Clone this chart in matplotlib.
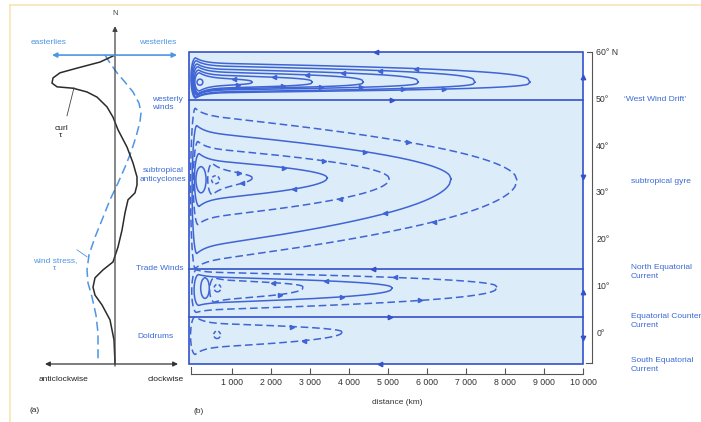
import numpy as np
import matplotlib
matplotlib.use('Agg')
import matplotlib.pyplot as plt
from matplotlib.patches import Rectangle, Ellipse
from matplotlib.lines import Line2D

plt.rcParams['font.family'] = ['Liberation Sans', 'DejaVu Sans']

# ---------------- data ----------------
# panel (a): curl of wind stress and wind stress against latitude
curl_val = [0.0, -1.5, -3.8, -5.5, -6.2, -6.3, -5.8, -4.2, -2.8, -1.8, -0.8, -0.2, 0.3,
            1.2, 1.8, 2.2, 2.2, 2.0, 1.3, 1.0, 0.7, 0.3, -0.2, -1.2, -2.0, -2.2, -2.0,
            -1.3, -0.5, -0.1, 0.0]
curl_lat = [59.3, 57.8, 56.5, 55.5, 54.4, 53.3, 52.5, 52.2, 51.4, 50.3, 48.2, 46.0, 43.3,
            39.6, 36.2, 33.2, 31.5, 29.8, 28.3, 25.5, 21.8, 18.2, 15.0, 13.3, 11.6, 9.6, 7.9,
            5.8, 2.6, -1.7, -6.6]
stress_val = [-1.0, -0.5, 0.2, 1.0, 1.8, 2.4, 2.6, 2.5, 2.1, 1.6, 1.0, 0.3, -0.5, -1.3,
              -2.0, -2.6, -2.8, -2.7, -2.3, -1.9, -1.7, -1.7]
stress_lat = [59.3, 57.6, 55.5, 53.5, 51.4, 49.0, 46.9, 45.0, 41.8, 38.5, 35.3, 31.9, 28.3,
              24.0, 20.3, 16.5, 13.3, 10.5, 7.5, 3.6, -0.2, -6.6]

# panel (b): axes
dist_ticks = [1000, 2000, 3000, 4000, 5000, 6000, 7000, 8000, 9000, 10000]
dist_labels = ['1 000', '2 000', '3 000', '4 000', '5 000', '6 000', '7 000', '8 000',
               '9 000', '10 000']
lat_ticks = [0, 10, 20, 30, 40, 50, 60]
lat_labels = ['0°', '10°', '20°', '30°', '40°', '50°', '60° N']

basin_west, basin_east = -90, 10000
basin_south, basin_north = -6.9, 60
band_edges = [49.6, 13.5, 3.2]

# streamline loops: eastern tip (km), tip latitude, top / bottom latitude near the west, west end (km)
wwd_tip = [1520, 3060, 4370, 5780, 7230, 8640]
wwd_tip_lat = [53.5, 53.5, 53.5, 53.5, 53.5, 53.5]
wwd_top = [54.4, 55.0, 55.7, 56.3, 57.0, 57.6]
wwd_bot = [52.7, 52.2, 52.0, 51.8, 51.4, 51.2]
wwd_west = [60, 40, 20, 0, -20, -40]
wwd_dashed = [False, False, False, False, False, False]

st_tip = [1530, 3450, 5040, 6620, 8310]
st_tip_lat = [33.0, 33.0, 32.8, 32.8, 32.5]
st_top = [34.7, 36.8, 39.4, 42.8, 46.5]
st_bot = [30.8, 28.3, 24.4, 18.2, 15.0]
st_west = [390, 50, 20, -10, -50]
st_dashed = [True, False, True, False, True]

nec_tip = [2830, 5110, 7800]
nec_tip_lat = [9.6, 9.4, 9.6]
nec_top = [11.1, 11.8, 12.8]
nec_bot = [6.9, 6.2, 4.7]
nec_west = [440, 40, -20]
nec_dashed = [True, False, True]

ecc_tip = [3830]
ecc_tip_lat = [0.0]
ecc_top = [1.9]
ecc_bot = [-3.4]
ecc_west = [-50]
ecc_dashed = [True]

# small eddies near the western boundary
eddy_x = [190, 218, 590, 320, 640, 630]
eddy_lat = [53.5, 32.6, 32.6, 9.4, 9.4, -0.6]
eddy_w = [75, 130, 100, 110, 85, 85]
eddy_h = [0.65, 2.8, 0.85, 2.2, 0.8, 0.8]
eddy_dashed = [False, False, True, False, True, True]

# arrows on the basin edges
edge_arrow_x = [4700, 5110, 4620, 5060, 4800]
edge_arrow_lat = [60, 49.6, 13.5, 3.2, -6.9]
edge_arrow_dir = ['<', '>', '<', '>', '<']
east_arrow_lat = [54.6, 33.2, 8.6, -1.3]
east_arrow_dir = ['^', 'v', '^', 'v']

# ---------------- styling ----------------
line_blue = '#3f64d4'
edge_blue = '#3552c8'
text_blue = '#3b6ad6'
light_blue = '#4e96e3'
fill_blue = '#dcecf9'
dark = '#2b2b2b'
fs = 6

fig = plt.figure(figsize=(7.01, 4.22), dpi=100)
fig.patch.set_facecolor('white')

# panel (b) axes: km across, latitude up
axb = fig.add_axes([185 / 701, 0, 516 / 701, 1])
axb.set_xlim(-192, 13022)
axb.set_ylim(-19.27, 71.09)
axb.patch.set_alpha(0)

# panel (a) axes: curl / stress across, latitude up
axa = fig.add_axes([0, 0, 185 / 701, 1])
axa.set_xlim(-11.5, 7.0)
axa.set_ylim(-19.27, 71.09)
axa.axis('off')

# pale frame of the scanned page
fig.add_artist(Line2D([10 / 701, 10 / 701], [0, 417 / 422], color='#f6e6b4', lw=1.2))
fig.add_artist(Line2D([10 / 701, 1], [417 / 422, 417 / 422], color='#f6e6b4', lw=1.2))

# ---------------- panel (a) ----------------
axa.annotate('', xy=(0, 65.5), xytext=(0, -7.3),
             arrowprops=dict(arrowstyle='-|>', color='#444', lw=0.9, mutation_scale=7,
                             shrinkA=0, shrinkB=0))
axa.text(0, 68.2, 'N', ha='center', va='center', fontsize=5.5, color='#444')
axa.annotate('', xy=(6.2, 59.3), xytext=(-6.3, 59.3),
             arrowprops=dict(arrowstyle='<|-|>', color=light_blue, lw=1.2, mutation_scale=7,
                             shrinkA=0, shrinkB=0))
axa.text(-6.6, 61.9, 'easterlies', ha='center', va='center', fontsize=fs, color=light_blue)
axa.text(4.3, 61.9, 'westerlies', ha='center', va='center', fontsize=fs, color=light_blue)
axa.annotate('', xy=(6.3, -6.85), xytext=(-7.0, -6.85),
             arrowprops=dict(arrowstyle='<|-|>', color='#333', lw=0.9, mutation_scale=7,
                             shrinkA=0, shrinkB=0))
axa.text(-5.2, -10.1, 'anticlockwise', ha='center', va='center', fontsize=fs, color='#222')
axa.text(5.1, -10.1, 'clockwise', ha='center', va='center', fontsize=fs, color='#222')
axa.text(-8.0, -16.9, '(a)', ha='center', va='center', fontsize=fs, color='#222')

axa.plot(stress_val, stress_lat, color=light_blue, lw=1.1, dashes=(6, 3))
axa.plot(curl_val, curl_lat, color=dark, lw=1.1)

axa.text(-5.4, 42.8, 'curl\nτ', ha='center', va='center', fontsize=fs, color='#222',
         linespacing=1.1)
axa.plot([-4.8, -4.1], [46.3, 52.3], color='#444', lw=0.6)
axa.text(-6.0, 14.4, 'wind stress,\nτ', ha='center', va='center', fontsize=fs,
         color=light_blue, linespacing=1.2)
axa.plot([-3.8, -2.8], [17.6, 16.1], color=light_blue, lw=0.6)

# wind-belt labels between the panels
axa.text(3.7, 49.0, 'westerly\nwinds', ha='left', va='center', fontsize=fs, color=text_blue,
         linespacing=1.2)
axa.text(4.8, 33.6, 'subtropical\nanticyclones', ha='center', va='center', fontsize=fs,
         color=text_blue, linespacing=1.3)
axa.text(4.5, 13.7, 'Trade Winds', ha='center', va='center', fontsize=fs, color=text_blue)
axa.text(2.2, -0.9, 'Doldrums', ha='left', va='center', fontsize=fs, color=text_blue)

# ---------------- panel (b) ----------------
axb.add_patch(Rectangle((basin_west, basin_south), basin_east - basin_west,
                        basin_north - basin_south, facecolor=fill_blue, edgecolor=edge_blue,
                        lw=1.2, zorder=1))
for lat in band_edges:
    axb.plot([basin_west, basin_east], [lat, lat], color=edge_blue, lw=1.2, zorder=2)


def draw_loop(west, tip, tip_lat, top, bot, dashed, p, flare, top_dir):
    r = 120
    s = np.linspace(0, 1, 160)
    x = west + r + (tip - west - r) * s
    shape = (1 - s) ** p
    fl = flare * np.exp(-(x - west - r) / 220)
    y_top = tip_lat + (top - tip_lat) * shape + fl
    y_bot = tip_lat - (tip_lat - bot) * shape - fl
    t = np.linspace(np.pi / 2, 3 * np.pi / 2, 60)
    yc = (y_top[0] + y_bot[0]) / 2
    ry = (y_top[0] - y_bot[0]) / 2
    cap_x = west + r + r * np.cos(t)
    cap_y = yc + ry * np.sin(t)
    xs = np.concatenate([x[::-1], cap_x, x])
    ys = np.concatenate([y_top[::-1], cap_y, y_bot])
    kw = dict(color=line_blue, lw=1.1, zorder=3)
    if dashed:
        kw['dashes'] = (5, 2.5)
    axb.plot(xs, ys, **kw)
    bot_dir = '>' if top_dir == '<' else '<'
    i1, i2 = int(0.66 * len(s)), int(0.74 * len(s))
    axb.plot(x[i1], y_top[i1], marker=top_dir, ms=3, color=line_blue, ls='none', zorder=4)
    axb.plot(x[i2], y_bot[i2], marker=bot_dir, ms=3, color=line_blue, ls='none', zorder=4)


for i in range(len(wwd_tip)):
    draw_loop(wwd_west[i], wwd_tip[i], wwd_tip_lat[i], wwd_top[i], wwd_bot[i],
              wwd_dashed[i], 0.32, 1.1, '<')
for i in range(len(st_tip)):
    draw_loop(st_west[i], st_tip[i], st_tip_lat[i], st_top[i], st_bot[i],
              st_dashed[i], 0.5, 1.4, '>')
for i in range(len(nec_tip)):
    draw_loop(nec_west[i], nec_tip[i], nec_tip_lat[i], nec_top[i], nec_bot[i],
              nec_dashed[i], 0.4, 0.5, '<')
for i in range(len(ecc_tip)):
    draw_loop(ecc_west[i], ecc_tip[i], ecc_tip_lat[i], ecc_top[i], ecc_bot[i],
              ecc_dashed[i], 0.45, 1.4, '>')

for i in range(len(eddy_x)):
    e = Ellipse((eddy_x[i], eddy_lat[i]), 2 * eddy_w[i], 2 * eddy_h[i], facecolor='none',
                edgecolor=line_blue, lw=1.1, zorder=3,
                linestyle=(0, (2.5, 1.5)) if eddy_dashed[i] else '-')
    axb.add_patch(e)

for x, lat, d in zip(edge_arrow_x, edge_arrow_lat, edge_arrow_dir):
    axb.plot(x, lat, marker=d, ms=3.2, color=edge_blue, ls='none', zorder=4)
for lat, d in zip(east_arrow_lat, east_arrow_dir):
    axb.plot(basin_east, lat, marker=d, ms=3.2, color=edge_blue, ls='none', zorder=4)

# axes decoration
for side in ['top', 'left']:
    axb.spines[side].set_visible(False)
axb.spines['bottom'].set_position(('data', -9.0))
axb.spines['bottom'].set_bounds(-40, 10000)
axb.spines['right'].set_position(('data', 10230))
axb.spines['right'].set_bounds(-6.6, 60)
for side in ['bottom', 'right']:
    axb.spines[side].set_color('#555')
    axb.spines[side].set_linewidth(0.8)
axb.set_xticks(dist_ticks)
axb.set_xticklabels(dist_labels)
axb.tick_params(axis='x', direction='in', length=4, width=0.8, color='#555', pad=2.5,
                labelsize=6.3, labelcolor='#333')
axb.yaxis.tick_right()
axb.set_yticks(lat_ticks)
axb.set_yticklabels(lat_labels)
axb.tick_params(axis='y', direction='in', length=0, pad=3, labelsize=6.3, labelcolor='#333')
axb.plot([-40, -40], [-9.0, -7.6], color='#555', lw=0.8, clip_on=False)
axb.plot([10100, 10230], [60, 60], color='#555', lw=0.8, clip_on=False)
axb.plot([10080, 10230], [-6.6, -6.6], color='#555', lw=0.8, clip_on=False)

axb.text(5240, -15.0, 'distance (km)', ha='center', va='center', fontsize=fs, color='#333')
axb.text(30, -17.1, '(b)', ha='left', va='center', fontsize=fs, color='#333')

# current names on the right
axb.text(11050, 49.7, '\u2018West Wind Drift\u2019', ha='left', va='center', fontsize=fs,
         color=text_blue)
axb.text(11230, 32.3, 'subtropical gyre', ha='left', va='center', fontsize=fs,
         color=text_blue)
axb.text(11230, 12.8, 'North Equatorial\nCurrent', ha='left', va='center', fontsize=fs,
         color=text_blue, linespacing=1.3)
axb.text(11230, 2.4, 'Equatorial Counter\nCurrent', ha='left', va='center', fontsize=fs,
         color=text_blue, linespacing=1.3)
axb.text(11230, -7.1, 'South Equatorial\nCurrent', ha='left', va='center', fontsize=fs,
         color=text_blue, linespacing=1.3)

fig.savefig('out.png', dpi=100)
